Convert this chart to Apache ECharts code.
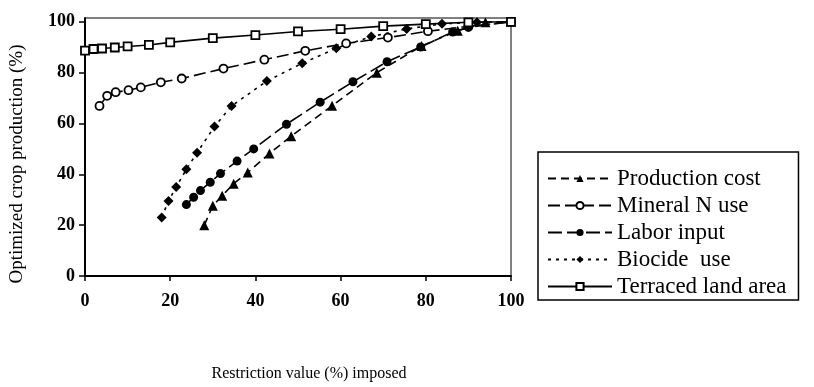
<!DOCTYPE html>
<html>
<head>
<meta charset="utf-8">
<script src="https://cdn.jsdelivr.net/npm/echarts@6/dist/echarts.min.js"></script>
<style>html,body{margin:0;padding:0;background:#fff}#c{width:814px;height:387px}</style>
</head>
<body>
<div id="c"></div>
<script>
// ---- data ----
const seriesNames = ["Production cost", "Mineral N use", "Labor input", "Biocide  use", "Terraced land area"];
const xTicks = [0, 20, 40, 60, 80, 100];
const yTicks = [0, 20, 40, 60, 80, 100];

const prodCostX = [28, 30, 32.2, 34.9, 38.2, 43.3, 48.4, 58, 68.5, 79, 87.5, 94, 100];
const prodCostY = [20, 27.6, 31.6, 36.3, 40.7, 48.2, 55, 67, 80, 90.5, 96.5, 99.8, 100];

const mineralNX = [3.4, 5.2, 7.2, 10.2, 13.1, 17.8, 22.7, 32.5, 42.1, 51.7, 61.3, 71.1, 80.5, 90, 100];
const mineralNY = [66.9, 70.9, 72.3, 73.1, 74.2, 76.2, 77.7, 81.6, 85.1, 88.6, 91.5, 93.8, 96.3, 98.2, 100];

const laborX = [23.8, 25.5, 27.1, 29.4, 31.8, 35.7, 39.6, 47.3, 55.2, 62.9, 70.9, 78.8, 86.3, 90, 100];
const laborY = [28.1, 31, 33.6, 36.9, 40.3, 45.2, 50, 59.7, 68.4, 76.4, 84.3, 90.1, 96, 97.8, 100];

const biocideX = [18, 19.6, 21.4, 23.8, 26.3, 30.4, 34.4, 42.7, 51, 59, 67.2, 75.5, 83.8, 92, 100];
const biocideY = [23, 29.5, 35, 42, 48.5, 58.8, 66.9, 76.7, 83.7, 89.6, 94.2, 97.2, 99.2, 99.8, 100];

const terracedX = [0, 2, 4, 7, 10, 15, 20, 30, 40, 50, 60, 70, 80, 90, 100];
const terracedY = [88.7, 89.3, 89.5, 89.9, 90.3, 90.9, 91.9, 93.6, 94.8, 96.2, 97.1, 98.3, 99.1, 99.8, 100];

// ---- chart ----
const pairs = (xs, ys) => xs.map((x, i) => [x, ys[i]]);
const FONT = '"Liberation Serif", "Times New Roman", serif';

function mk(name, xs, ys, symbol, size, filled, dash) {
  return {
    name: name,
    type: 'line',
    data: pairs(xs, ys),
    symbol: symbol,
    symbolSize: size,
    showSymbol: true,
    animation: false,
    lineStyle: { color: '#000', width: 1.6, type: dash },
    itemStyle: { color: filled ? '#000' : '#fff', borderColor: '#000', borderWidth: filled ? 0 : 1.8 },
    z: 3
  };
}

const chart = echarts.init(document.getElementById('c'), null, { renderer: 'canvas' });
chart.setOption({
  animation: false,
  backgroundColor: '#fff',
  grid: { left: 83, right: 303, top: 18, bottom: 98, show: true, borderColor: '#000', borderWidth: 1 },
  legend: {
    orient: 'vertical',
    left: 538,
    top: 152,
    data: seriesNames,
    itemWidth: 64,
    itemHeight: 9,
    itemGap: 4,
    padding: [15, 12, 2, 9],
    borderColor: '#000',
    borderWidth: 1.5,
    backgroundColor: '#fff',
    textStyle: { fontFamily: FONT, fontSize: 23, color: '#000' },
    selectedMode: false
  },
  xAxis: {
    type: 'value',
    min: 0, max: 100, interval: 20,
    name: 'Restriction value (%) imposed',
    nameLocation: 'middle',
    nameGap: 90,
    nameTextStyle: { fontFamily: FONT, fontSize: 16, color: '#000', padding: [0, 0, 0, 22] },
    axisLine: { lineStyle: { color: '#000', width: 2 } },
    axisTick: { length: 5, lineStyle: { color: '#000', width: 1.5 } },
    axisLabel: { fontFamily: FONT, fontSize: 18, fontWeight: 'bold', color: '#000', margin: 16,
                 formatter: v => (xTicks.indexOf(v) >= 0 ? String(v) : '') },
    splitLine: { show: false }
  },
  yAxis: {
    type: 'value',
    min: 0, max: 101.5, interval: 20,
    name: 'Optimized crop production (%)',
    nameLocation: 'middle',
    nameGap: 58,
    nameRotate: 90,
    nameTextStyle: { fontFamily: FONT, fontSize: 19, color: '#000', padding: [0, 34, 0, 0] },
    axisLine: { lineStyle: { color: '#000', width: 2 } },
    axisTick: { length: 6, lineStyle: { color: '#000', width: 1.5 } },
    axisLabel: { fontFamily: FONT, fontSize: 18, fontWeight: 'bold', color: '#000', margin: 10,
                 showMaxLabel: false,
                 formatter: v => (yTicks.indexOf(v) >= 0 ? String(v) : '') },
    splitLine: { show: false }
  },
  series: [
    mk(seriesNames[0], prodCostX, prodCostY, 'triangle', 10, true, [8, 5]),
    mk(seriesNames[1], mineralNX, mineralNY, 'circle', 8, false, [12, 5]),
    mk(seriesNames[2], laborX, laborY, 'circle', 9, true, [14, 5]),
    mk(seriesNames[3], biocideX, biocideY, 'diamond', 10, true, [3, 5]),
    mk(seriesNames[4], terracedX, terracedY, 'rect', 8, false, 'solid')
  ]
});
</script>
</body>
</html>
